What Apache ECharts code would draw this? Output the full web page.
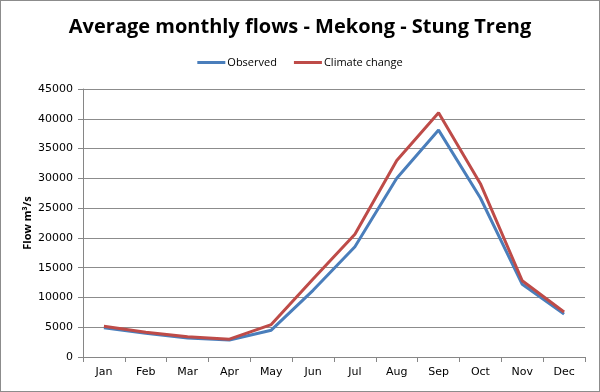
<!DOCTYPE html>
<html><head><meta charset="utf-8">
<script src="https://cdn.jsdelivr.net/npm/echarts@6/dist/echarts.min.js"></script>
<style>html,body{margin:0;padding:0;background:#fff}#c{width:600px;height:392px;box-sizing:border-box;border:1px solid #8c8c8c}</style>
</head><body><div id="c"></div>
<script>
const months = ['Jan','Feb','Mar','Apr','May','Jun','Jul','Aug','Sep','Oct','Nov','Dec'];
const observed = [4900, 4000, 3200, 2850, 4500, 11200, 18500, 30000, 38100, 26700, 12200, 7200];
const climateChange = [5150, 4150, 3400, 3000, 5450, 13100, 20600, 33000, 41000, 29100, 12800, 7550];
const yTicks = [0, 5000, 10000, 15000, 20000, 25000, 30000, 35000, 40000, 45000];

const chart = echarts.init(document.getElementById('c'));
chart.setOption({
  animation: false,
  title: {
    text: 'Average monthly flows - Mekong - Stung Treng',
    left: 'center', top: 11,
    textStyle: {fontFamily: 'Open Sans', fontWeight: 'bold', fontSize: 20, color: '#000'}
  },
  legend: {
    top: 51, left: 'center', itemWidth: 28, itemHeight: 3, itemGap: 17,
    icon: 'rect',
    textStyle: {fontFamily: 'Open Sans', fontSize: 11, color: '#000', padding: [0,0,0,-3]},
    data: ['Observed', 'Climate change']
  },
  grid: {left: 82, right: 14, top: 88, bottom: 34},
  xAxis: {
    type: 'category', data: months, boundaryGap: true,
    axisLine: {lineStyle: {color: '#868686'}},
    axisTick: {show: true, length: 5, lineStyle: {color: '#868686'}},
    axisLabel: {fontFamily: 'DejaVu Sans', fontSize: 11, color: '#000', margin: 10}
  },
  yAxis: {
    type: 'value', min: yTicks[0], max: yTicks[yTicks.length-1], interval: 5000,
    name: 'Flow m³/s', nameLocation: 'middle', nameGap: 50, nameRotate: 90,
    nameMoveOverlap: false,
    nameTextStyle: {fontFamily: 'Open Sans', fontWeight: 'bold', fontSize: 11, color: '#000'},
    axisLine: {show: true, lineStyle: {color: '#868686'}},
    axisTick: {show: true, length: 5, lineStyle: {color: '#868686'}},
    axisLabel: {fontFamily: 'DejaVu Sans', fontSize: 11, color: '#000', margin: 10,
      formatter: v => String(v)},
    splitLine: {lineStyle: {color: '#8c8c8c', width: 1}}
  },
  series: [
    {name: 'Observed', type: 'line', data: observed, symbol: 'none',
     lineStyle: {color: '#4a7ebb', width: 3}, itemStyle: {color: '#4a7ebb'}},
    {name: 'Climate change', type: 'line', data: climateChange, symbol: 'none',
     lineStyle: {color: '#be4b48', width: 3}, itemStyle: {color: '#be4b48'}}
  ]
});
</script></body></html>
